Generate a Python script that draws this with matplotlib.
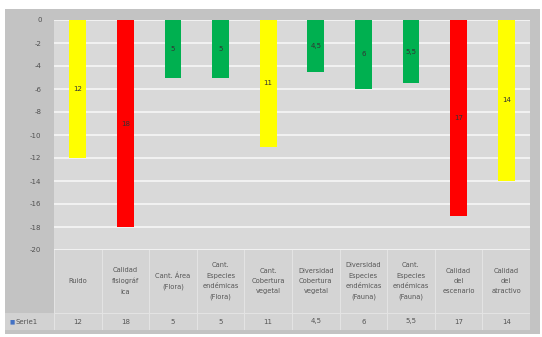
import matplotlib
matplotlib.use("Agg")
import matplotlib.pyplot as plt
from matplotlib.patches import Rectangle

categories = ["Ruido", "Calidad\nfisiográf\nica", "Cant. Área\n(Flora)",
              "Cant.\nEspecies\nendémicas\n(Flora)", "Cant.\nCobertura\nvegetal",
              "Diversidad\nCobertura\nvegetal", "Diversidad\nEspecies\nendémicas\n(Fauna)",
              "Cant.\nEspecies\nendémicas\n(Fauna)", "Calidad\ndel\nescenario",
              "Calidad\ndel\natractivo"]
values = [12, 18, 5, 5, 11, 4.5, 6, 5.5, 17, 14]
value_labels = ["12", "18", "5", "5", "11", "4,5", "6", "5,5", "17", "14"]
bar_colors = ["#FFFF00", "#FF0000", "#00B050", "#00B050", "#FFFF00",
              "#00B050", "#00B050", "#00B050", "#FF0000", "#FFFF00"]
series_name = "Serie1"
yticks = list(range(0, -21, -2))

W, H = 542, 337
fig = plt.figure(figsize=(W / 100, H / 100), dpi=100)
fig.patch.set_facecolor("white")

def fx(px):
    return px / W

def fy(py):
    return 1 - py / H

# background axes in pixel coordinates (y downwards)
bg = fig.add_axes([0, 0, 1, 1], zorder=-5)
bg.set_xlim(0, W)
bg.set_ylim(H, 0)
bg.axis("off")
bg.add_patch(Rectangle((5, 9), 535, 325, facecolor="#c3c3c3", edgecolor="none"))
bg.add_patch(Rectangle((54, 250), 476, 80, facecolor="#d4d4d4", edgecolor="none"))
bg.add_patch(Rectangle((5, 313), 49, 17, facecolor="#d2d2d2", edgecolor="none"))

# main plot
ax = fig.add_axes([fx(54), fy(250), fx(476), 230 / H], zorder=1)
ax.set_facecolor("#d9d9d9")
n = len(values)
xs = list(range(n))
neg = [-v for v in values]
ax.bar(xs, neg, width=0.35, color=bar_colors, zorder=3)
for x, v, lab in zip(xs, neg, value_labels):
    ax.text(x, v / 2, lab, ha="center", va="center", fontsize=5,
            color="#333333", zorder=4)
ax.set_xlim(-0.5, n - 0.5)
ax.set_ylim(-20, 0)
ax.set_yticks(yticks)
ax.set_yticklabels([str(t) for t in yticks], fontsize=5, color="#505050")
ax.yaxis.grid(True, color="#f4f4f4", linewidth=1.3, zorder=1)
ax.set_axisbelow(True)
ax.set_xticks([])
ax.tick_params(axis="y", length=0, pad=9)
for s in ax.spines.values():
    s.set_visible(False)

# data table as axes sharing x scale
tax = fig.add_axes([fx(54), fy(330), fx(476), 80 / H], zorder=1)
tax.set_xlim(-0.5, n - 0.5)
tax.set_ylim(0, 80)
tax.axis("off")
for x, cat, lab in zip(xs, categories, value_labels):
    tax.text(x, 80 - 31, cat, ha="center", va="center", fontsize=4.8,
             color="#555555", linespacing=1.85)
    tax.text(x, 8.5, lab, ha="center", va="center", fontsize=5, color="#555555")
for b in [i - 0.5 for i in range(n + 1)]:
    tax.plot([b, b], [0, 80], color="#e4e4e4", linewidth=0.7)
tax.plot([-0.5, n - 0.5], [17, 17], color="#e4e4e4", linewidth=0.7)

fig.text(fx(10), fy(322), "■", fontsize=4, color="#4472C4", va="center", ha="left")
fig.text(fx(16), fy(322), series_name, fontsize=5, color="#555555",
         va="center", ha="left")

fig.savefig("out.png", dpi=100, facecolor="white")
